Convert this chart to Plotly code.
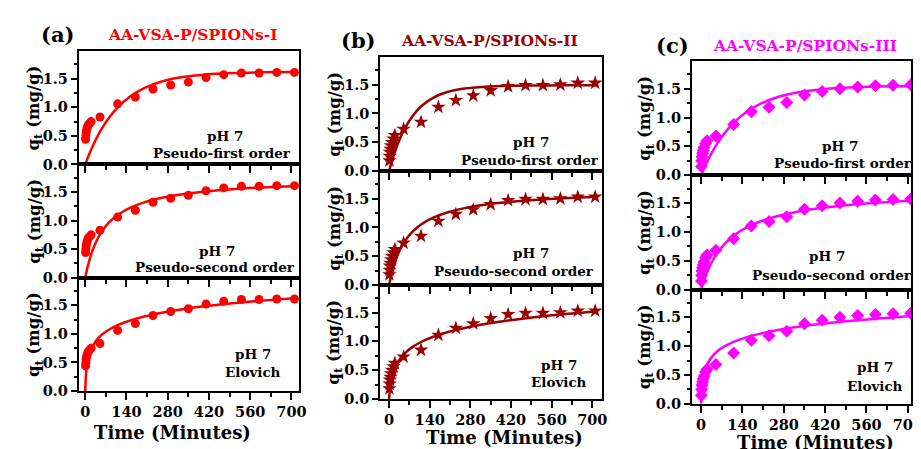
import plotly.graph_objects as go

# ---------------- data ----------------
T_EXP = [1, 2, 3, 5, 7, 10, 15, 20, 50, 110, 170, 230, 290, 350, 410, 470, 530, 590, 650, 710]
Q_A = [0.44, 0.50, 0.56, 0.61, 0.65, 0.69, 0.72, 0.75, 0.83, 1.06, 1.18, 1.32, 1.39, 1.44, 1.52, 1.57, 1.60, 1.60, 1.61, 1.61]
Q_B = [0.18, 0.26, 0.33, 0.38, 0.44, 0.50, 0.56, 0.62, 0.73, 0.85, 1.11, 1.23, 1.31, 1.40, 1.47, 1.49, 1.49, 1.50, 1.53, 1.53]
Q_C = [0.15, 0.25, 0.32, 0.38, 0.43, 0.48, 0.55, 0.60, 0.68, 0.88, 1.10, 1.18, 1.26, 1.39, 1.45, 1.50, 1.53, 1.55, 1.56, 1.57]

T_FIT = [0, 1, 3, 6, 10, 20, 35, 55, 80, 110, 150, 200, 260, 330, 410, 500, 600, 720]
A_PFO = [0, 0.014, 0.042, 0.082, 0.135, 0.259, 0.425, 0.616, 0.812, 0.998, 1.181, 1.336, 1.451, 1.528, 1.574, 1.599, 1.611, 1.617]
A_PSO = [0, 0.026, 0.077, 0.147, 0.232, 0.409, 0.609, 0.799, 0.962, 1.096, 1.218, 1.318, 1.397, 1.460, 1.508, 1.547, 1.577, 1.604]
A_ELO = [0, 0.155, 0.320, 0.457, 0.569, 0.731, 0.867, 0.979, 1.072, 1.152, 1.230, 1.303, 1.369, 1.430, 1.485, 1.535, 1.581, 1.627]
B_PFO = [0, 0.019, 0.056, 0.109, 0.178, 0.334, 0.535, 0.749, 0.950, 1.122, 1.268, 1.373, 1.435, 1.467, 1.482, 1.487, 1.489, 1.490]
B_PSO = [0, 0.025, 0.074, 0.141, 0.223, 0.393, 0.585, 0.766, 0.922, 1.050, 1.165, 1.260, 1.336, 1.395, 1.441, 1.478, 1.507, 1.532]
B_ELO = [0, 0.068, 0.170, 0.277, 0.376, 0.535, 0.677, 0.797, 0.900, 0.989, 1.076, 1.158, 1.233, 1.301, 1.363, 1.420, 1.473, 1.525]
C_PFO = [0, 0.012, 0.037, 0.073, 0.119, 0.229, 0.379, 0.552, 0.733, 0.907, 1.083, 1.237, 1.356, 1.439, 1.492, 1.522, 1.537, 1.545]
C_PSO = [0, 0.018, 0.053, 0.102, 0.164, 0.300, 0.465, 0.634, 0.792, 0.931, 1.063, 1.179, 1.275, 1.353, 1.416, 1.466, 1.507, 1.542]
C_ELO = [0, 0.140, 0.292, 0.419, 0.525, 0.677, 0.805, 0.911, 0.999, 1.074, 1.148, 1.217, 1.279, 1.336, 1.388, 1.436, 1.479, 1.523]

PANEL_LABELS = ["(a)", "(b)", "(c)"]
PANEL_TITLES = ["AA-VSA-P/SPIONs-I", "AA-VSA-P/SPIONs-II", "AA-VSA-P/SPIONs-III"]
MODEL_NAMES = ["Pseudo-first order", "Pseudo-second order", "Elovich"]
X_TICKS = [0, 140, 280, 420, 560, 700]
Y_TICKS = [0.0, 0.5, 1.0, 1.5]

# ---------------- styling / layout ----------------
W, H = 921, 449
FONT = "DejaVu Serif"
COLORS = ["#FF0000", "#990000", "#FF00FF"]
SYMBOLS = ["circle", "star", "diamond"]
MSIZE = [9, 11, 10]

panels = [
    dict(x0=71.7, x1=295.0, rows=[44, 159.3, 274.7, 390], xr=[-22, 726], ytitle_x=27,
         lab=(50, 27), tit=(187, 27), xt=(167, 432),
         notes=[(220, 130, 217, 148), (212, 247, 210, 264), (248, 352, 248, 371)]),
    dict(x0=377.3, x1=601.7, rows=[50, 166, 282, 398], xr=[-30, 733], ytitle_x=331,
         lab=(355, 33), tit=(488, 33), xt=(503, 437),
         notes=[(530, 136, 529, 155), (530, 249, 513, 268), (558, 363, 558, 381)]),
    dict(x0=693.0, x1=915.0, rows=[54, 170.3, 286.7, 403], xr=[-31, 711], ytitle_x=646,
         lab=(673, 38), tit=(808, 38), xt=(818, 442),
         notes=[(843, 140, 846, 158), (830, 253, 835, 272), (878, 366, 878, 385)]),
]

Q_EXP = [Q_A, Q_B, Q_C]
FITS = [[A_PFO, A_PSO, A_ELO], [B_PFO, B_PSO, B_ELO], [C_PFO, C_PSO, C_ELO]]

fig = go.Figure()
layout = dict(width=W, height=H, margin=dict(l=0, r=0, t=0, b=0),
              paper_bgcolor="white", plot_bgcolor="white", showlegend=False)
annotations = []

def px(x):
    return x / W

def py(y):
    return 1 - y / H

def note(x, y, text, size, color="black", angle=0):
    annotations.append(dict(x=px(x), y=py(y), xref="paper", yref="paper", text=text,
                            textangle=angle, showarrow=False, xanchor="center", yanchor="middle",
                            font=dict(family=FONT, size=size, color=color, weight="bold")))

for p, pan in enumerate(panels):
    for r in range(3):
        k = p * 3 + r + 1
        xa = "x" if k == 1 else f"x{k}"
        ya = "y" if k == 1 else f"y{k}"
        fig.add_trace(go.Scatter(x=T_FIT, y=FITS[p][r], mode="lines", xaxis=xa, yaxis=ya,
                                 line=dict(color=COLORS[p], width=2.5, shape="spline", smoothing=0.8)))
        fig.add_trace(go.Scatter(x=T_EXP, y=Q_EXP[p], mode="markers", xaxis=xa, yaxis=ya,
                                 cliponaxis=False,
                                 marker=dict(symbol=SYMBOLS[p], size=MSIZE[p], color=COLORS[p],
                                             line=dict(width=0))))
        top, bot = pan["rows"][r], pan["rows"][r + 1]
        xkey = "xaxis" if k == 1 else f"xaxis{k}"
        ykey = "yaxis" if k == 1 else f"yaxis{k}"
        layout[xkey] = dict(domain=[px(pan["x0"]), px(pan["x1"])], anchor=ya, range=pan["xr"],
                            showgrid=False, zeroline=False, showline=True, linecolor="black",
                            linewidth=2, mirror=True, ticks="outside", ticklen=7, tickwidth=2,
                            tickcolor="black", tickvals=X_TICKS, showticklabels=(r == 2),
                            tickfont=dict(family=FONT, size=14.5, color="black", weight="bold"),
                            minor=dict(dtick=70, tick0=0, ticks="outside", ticklen=4, tickwidth=2,
                                       tickcolor="black", showgrid=False))
        layout[ykey] = dict(domain=[py(bot), py(top)], anchor=xa, range=[0, 1.98],
                            showgrid=False, zeroline=False, showline=True, linecolor="black",
                            linewidth=2, mirror=True, ticks="outside", ticklen=6, tickwidth=2,
                            tickcolor="black", tickvals=Y_TICKS, tickformat=".1f",
                            tickfont=dict(family=FONT, size=14.5, color="black", weight="bold"),
                            minor=dict(dtick=0.25, tick0=0, ticks="outside", ticklen=3, tickwidth=2,
                                       tickcolor="black", showgrid=False))
        note(pan["ytitle_x"], (top + bot) / 2, "q<sub>t</sub> (mg/g)", 16.5, angle=-90)
        n = pan["notes"][r]
        note(n[0], n[1], "pH 7", 13.5)
        note(n[2], n[3], MODEL_NAMES[r], 13.5)
    note(pan["lab"][0], pan["lab"][1], PANEL_LABELS[p], 21)
    note(pan["tit"][0], pan["tit"][1], PANEL_TITLES[p], 15.5, color=COLORS[p])
    note(pan["xt"][0], pan["xt"][1], "Time (Minutes)", 18)

layout["annotations"] = annotations
fig.update_layout(**layout)
fig.write_html("out.html")
